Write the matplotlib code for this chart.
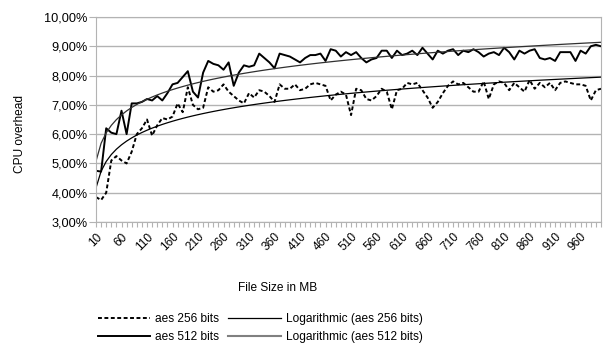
import numpy as np
import matplotlib.pyplot as plt
from matplotlib.ticker import FuncFormatter

plt.rcParams['font.family'] = ['Liberation Sans', 'DejaVu Sans']
FS = 8.6

# File sizes in MB (category axis)
sizes = list(range(10, 1001, 10))

# CPU overhead in percent
aes256 = [3.85, 3.75, 4.0, 5.1, 5.25, 5.1, 5.0, 5.4, 6.0, 6.2,
          6.5, 5.95, 6.3, 6.55, 6.5, 6.6, 7.05, 6.75, 7.6, 7.0,
          6.85, 6.9, 7.6, 7.45, 7.5, 7.7, 7.45, 7.3, 7.15, 7.05,
          7.4, 7.25, 7.5, 7.45, 7.3, 7.1, 7.7, 7.55, 7.55, 7.7,
          7.5, 7.55, 7.7, 7.75, 7.7, 7.65, 7.15, 7.35, 7.45, 7.35,
          6.65, 7.55, 7.5, 7.2, 7.15, 7.3, 7.55, 7.45, 6.85, 7.5,
          7.55, 7.75, 7.7, 7.75, 7.5, 7.25, 6.9, 7.1, 7.4, 7.65,
          7.8, 7.7, 7.75, 7.6, 7.45, 7.45, 7.8, 7.2, 7.7, 7.8,
          7.75, 7.5, 7.75, 7.6, 7.45, 7.85, 7.55, 7.75, 7.6, 7.75,
          7.5, 7.75, 7.8, 7.75, 7.7, 7.7, 7.65, 7.15, 7.5, 7.55]

aes512 = [4.75, 4.72, 6.2, 6.05, 6.0, 6.8, 6.0, 7.05, 7.05, 7.1,
          7.2, 7.15, 7.3, 7.15, 7.4, 7.7, 7.75, 7.95, 8.15, 7.45,
          7.25, 8.1, 8.5, 8.4, 8.35, 8.2, 8.45, 7.65, 8.1, 8.35,
          8.3, 8.35, 8.75, 8.6, 8.45, 8.25, 8.75, 8.7, 8.65, 8.55,
          8.45, 8.6, 8.7, 8.7, 8.75, 8.5, 8.9, 8.85, 8.65, 8.8,
          8.7, 8.8, 8.6, 8.45, 8.55, 8.6, 8.85, 8.85, 8.6, 8.85,
          8.7, 8.75, 8.85, 8.7, 8.95, 8.75, 8.55, 8.85, 8.75, 8.85,
          8.9, 8.7, 8.85, 8.8, 8.9, 8.8, 8.65, 8.75, 8.8, 8.7,
          8.95, 8.8, 8.55, 8.85, 8.75, 8.85, 8.9, 8.6, 8.55, 8.6,
          8.5, 8.8, 8.8, 8.8, 8.5, 8.85, 8.75, 9.0, 9.05, 9.0]

x = np.arange(len(sizes))
xl = np.log(x + 1)  # logarithmic trend over category index 1..n


def log_fit(y):
    b, a = np.polyfit(xl, y, 1)
    return a + b * xl


fig = plt.figure(figsize=(6.07, 3.45), dpi=100)
ax = fig.add_axes([96 / 607, 1 - 222 / 345, 505 / 607, 205 / 345])

l1, = ax.plot(x, aes256, color='black', lw=1.4, ls=(0, (2, 1.3)))
l2, = ax.plot(x, log_fit(aes256), color='black', lw=0.9)
l3, = ax.plot(x, aes512, color='black', lw=1.4)
l4, = ax.plot(x, log_fit(aes512), color='#303030', lw=0.9)

ax.set_xlim(0, len(sizes) - 1)
ax.set_ylim(3, 10)
ax.set_yticks(np.arange(3, 10.5, 1))
ax.yaxis.set_major_formatter(FuncFormatter(lambda v, p: f'{v:.2f}'.replace('.', ',') + '%'))
ax.set_xticks(x)
ax.set_xticklabels([str(s) if i % 5 == 0 else '' for i, s in enumerate(sizes)],
                   rotation=45, ha='right', rotation_mode='anchor')
ax.tick_params(axis='y', length=5, color='#b3b3b3', labelsize=9.2, pad=1)
ax.tick_params(axis='x', length=3.5, color='#b3b3b3', labelsize=FS, pad=3)
ax.grid(axis='y', color='#b3b3b3', lw=1)
ax.set_axisbelow(True)
for s in ax.spines.values():
    s.set_color('#b3b3b3')

fig.text(20 / 607, 1 - 134 / 345, 'CPU overhead', fontsize=FS, rotation=90,
         ha='center', va='center')
fig.text(278 / 607, 1 - 288 / 345, 'File Size in MB', fontsize=FS,
         ha='center', va='center')

leg_trend512 = plt.Line2D([], [], color='#808080', lw=1.5)
fig.legend([l1, l3, l2, leg_trend512],
           ['aes 256 bits', 'aes 512 bits', 'Logarithmic (aes 256 bits)', 'Logarithmic (aes 512 bits)'],
           ncol=2, loc='center', bbox_to_anchor=(260 / 607, 1 - 328 / 345),
           frameon=False, fontsize=FS, handlelength=4.4, handletextpad=0.42,
           columnspacing=0.75, labelspacing=0.55, borderpad=0)

fig.savefig('out.png', dpi=100)
